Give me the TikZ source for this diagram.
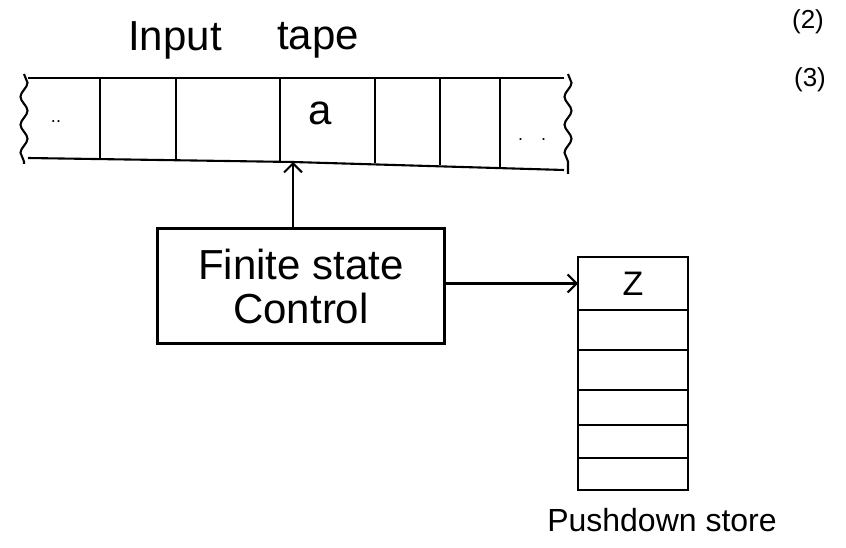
\documentclass[tikz,border=0pt]{standalone}
\usepackage{fontspec}
\setmainfont{Liberation Sans}
\usetikzlibrary{arrows.meta,decorations.pathmorphing}
\begin{document}
\begin{tikzpicture}[x=1pt,y=-1pt,line width=2.1pt,
  wavy/.style={decorate,decoration={snake,amplitude=3.5pt,segment length=28pt}},
  arr/.style={-{Straight Barb[length=9pt,width=18pt,line width=2pt]}},
  cell/.style={draw,minimum width=110pt,anchor=north west,inner sep=0pt,outer sep=0pt},
  lbl/.style={inner sep=0pt,font=\fontsize{42}{46}\selectfont},
  small/.style={inner sep=0pt,font=\fontsize{26}{30}\selectfont}]
\useasboundingbox (0,0) rectangle (846,548);
% labels
\node[lbl] (input) at (175,40) {Input};
\node[lbl] (tapew) at (318,40) {tape};
\node[small] (n2) at (808,22) {(2)};
\node[small] (n3) at (810,80) {(3)};
% tape
\draw (28,78) -- (564,78);
\draw (28,158) -- (293,162) -- (564,170);
\draw[wavy] (24,74) -- (24,164);
\draw[wavy] (568,74) -- (568,174);
\foreach \x/\yb in {100/159,176/160,280/161,375/163,440/165,500/167}
  \draw (\x,78) -- (\x,\yb);
\node[inner sep=0pt,font=\fontsize{42}{46}\selectfont] (a) at (320,113) {a};
\node[inner sep=0pt,font=\fontsize{18}{20}\selectfont] (dl) at (56,122) {..};
\node[inner sep=0pt,font=\fontsize{18}{20}\selectfont] (dr) at (532,140) {.\quad.};
\coordinate (head) at (293,162);
% finite state control
\node[draw,minimum width=287pt,minimum height=115pt,align=center,
      font=\fontsize{42}{44}\selectfont] (fsc) at (301,286) {Finite state\\Control};
\draw[arr] (fsc.north -| head) -- (head);
% stack
\node[cell,minimum height=53pt,font=\fontsize{34}{38}\selectfont] (z) at (578,257) {Z};
\node[cell,minimum height=40pt] (s1) at (z.south west) {};
\node[cell,minimum height=40pt] (s2) at (s1.south west) {};
\node[cell,minimum height=35pt] (s3) at (s2.south west) {};
\node[cell,minimum height=33pt] (s4) at (s3.south west) {};
\node[cell,minimum height=32pt] (s5) at (s4.south west) {};
\draw[arr] (fsc.east |- z.west) -- (z.west);
\node[inner sep=0pt,font=\fontsize{32}{36}\selectfont] (pd) at (662,520) {Pushdown store};
\end{tikzpicture}
\end{document}
